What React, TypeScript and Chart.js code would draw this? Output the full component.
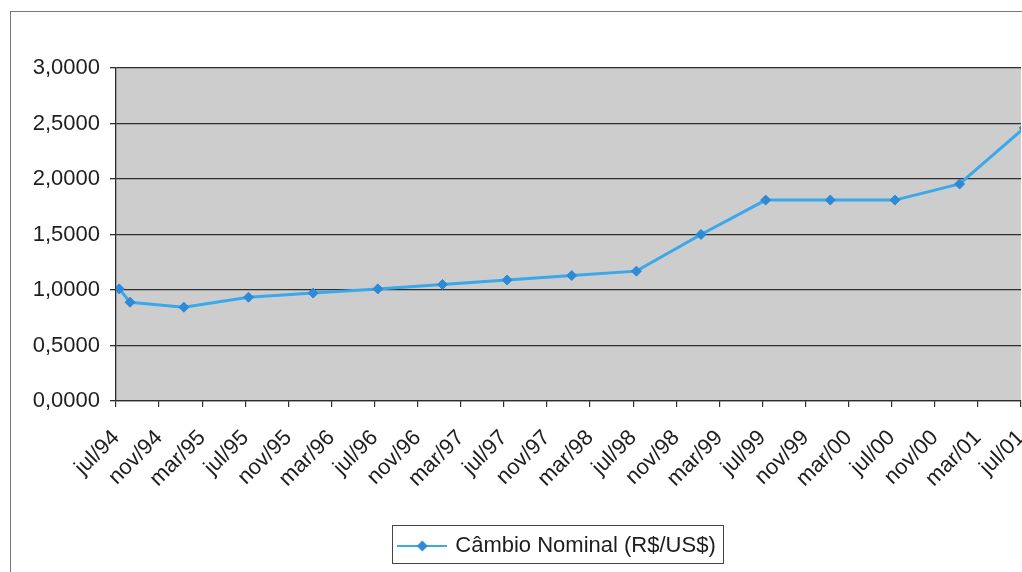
import { useEffect, useRef } from "react";
import { Chart, registerables } from "chart.js";

Chart.register(...registerables);

// X axis tick positions (months since jul/94) and their labels
const tickMonths = [0, 4, 8, 12, 16, 20, 24, 28, 32, 36, 40, 44, 48, 52, 56, 60, 64, 68, 72, 76, 80, 84];
const tickLabels = [
  "jul/94", "nov/94", "mar/95", "jul/95", "nov/95", "mar/96", "jul/96", "nov/96",
  "mar/97", "jul/97", "nov/97", "mar/98", "jul/98", "nov/98", "mar/99", "jul/99",
  "nov/99", "mar/00", "jul/00", "nov/00", "mar/01", "jul/01",
];

// Observation months (since jul/94) and the day-in-month fraction of each observation
const pointMonths = [0, 1, 6, 12, 18, 24, 30, 36, 42, 48, 54, 60, 66, 72, 78, 84];
const dayFraction = 0.3;
const rateValues = [1.01, 0.89, 0.845, 0.935, 0.972, 1.01, 1.05, 1.09, 1.13, 1.17, 1.5, 1.81, 1.81, 1.81, 1.955, 2.46];

const yTicks = [0, 0.5, 1, 1.5, 2, 2.5, 3];
const seriesLabel = "Câmbio Nominal (R$/US$)";

const FONT = "'Liberation Sans', Arial, sans-serif";
const LINE_COLOR = "#3aa8ea";
const MARKER_COLOR = "#2c8ad6";
const GRID_COLOR = "#2e2e2e";
const TEXT_COLOR = "#1e1e1e";

function makeLegendImage(): HTMLCanvasElement {
  const c = document.createElement("canvas");
  c.width = 50;
  c.height = 14;
  const ctx = c.getContext("2d")!;
  ctx.strokeStyle = LINE_COLOR;
  ctx.lineWidth = 2;
  ctx.beginPath();
  ctx.moveTo(0, 7);
  ctx.lineTo(50, 7);
  ctx.stroke();
  ctx.fillStyle = MARKER_COLOR;
  ctx.beginPath();
  ctx.moveTo(25, 1.5);
  ctx.lineTo(30.5, 7);
  ctx.lineTo(25, 12.5);
  ctx.lineTo(19.5, 7);
  ctx.closePath();
  ctx.fill();
  return c;
}

const plotBackground = {
  id: "plotBackground",
  beforeDraw(chart: any) {
    const { ctx, chartArea } = chart;
    ctx.save();
    ctx.fillStyle = "#cdcdcd";
    ctx.fillRect(chartArea.left, chartArea.top, chartArea.right - chartArea.left, chartArea.bottom - chartArea.top);
    ctx.restore();
  },
};

// The original chart is wider than the visible crop: centre the legend on the full chart width.
const legendShift = {
  id: "legendShift",
  afterUpdate(chart: any) {
    const lg = chart.legend;
    if (!lg) return;
    const shift = (chart.width - lg.right) / 2;
    lg.left += shift;
    lg.right += shift;
    (lg.legendHitBoxes || []).forEach((h: any) => {
      h.left += shift;
    });
  },
};

const legendBorder = {
  id: "legendBorder",
  afterDraw(chart: any) {
    const lg = chart.legend;
    if (!lg || !lg.legendHitBoxes || !lg.legendHitBoxes.length) return;
    const h = lg.legendHitBoxes[0];
    const { ctx } = chart;
    ctx.save();
    ctx.strokeStyle = "#444";
    ctx.lineWidth = 1;
    ctx.strokeRect(Math.round(h.left - 8) + 0.5, Math.round(h.top - 10) + 0.5, Math.round(h.width + 16), Math.round(h.height + 16));
    ctx.restore();
  },
};

export default function App() {
  const ref = useRef<HTMLCanvasElement>(null);

  useEffect(() => {
    if (!ref.current) return;
    const legendImg = makeLegendImage();
    const chart = new Chart(ref.current, {
      type: "line",
      data: {
        datasets: [
          {
            label: seriesLabel,
            data: pointMonths.map((m, i) => ({ x: m + dayFraction, y: rateValues[i] })),
            borderColor: LINE_COLOR,
            backgroundColor: MARKER_COLOR,
            borderWidth: 3,
            pointStyle: "rectRot",
            pointRadius: 5,
            pointBackgroundColor: MARKER_COLOR,
            pointBorderColor: MARKER_COLOR,
            pointBorderWidth: 1,
            tension: 0,
          },
        ],
      },
      options: {
        animation: false,
        responsive: false,
        maintainAspectRatio: false,
        layout: { padding: { top: 68, right: 95, bottom: 5, left: 0 } },
        plugins: {
          tooltip: { enabled: false },
          legend: {
            position: "bottom",
            labels: {
              usePointStyle: true,
              pointStyleWidth: 44,
              padding: 10,
              color: TEXT_COLOR,
              font: { family: FONT, size: 22 },
              generateLabels: (c: any) =>
                c.data.datasets.map((ds: any, i: number) => ({
                  text: ds.label,
                  pointStyle: legendImg,
                  fillStyle: MARKER_COLOR,
                  strokeStyle: LINE_COLOR,
                  lineWidth: 0,
                  hidden: false,
                  datasetIndex: i,
                  fontColor: TEXT_COLOR,
                })),
            },
          },
        },
        scales: {
          x: {
            type: "linear",
            min: 0,
            max: 84,
            afterBuildTicks: (s: any) => {
              s.ticks = tickMonths.map((v) => ({ value: v }));
            },
            afterFit: (s: any) => {
              s.height = 124;
            },
            grid: {
              drawOnChartArea: false,
              drawTicks: true,
              tickLength: 6,
              color: GRID_COLOR,
              lineWidth: 1.2,
            },
            border: { color: GRID_COLOR, width: 1.3 },
            ticks: {
              autoSkip: false,
              minRotation: 45,
              maxRotation: 45,
              padding: 18,
              color: TEXT_COLOR,
              font: { family: FONT, size: 22 },
              callback: (v: any) => {
                const i = tickMonths.indexOf(Number(v));
                return i >= 0 ? tickLabels[i] : "";
              },
            },
          },
          y: {
            type: "linear",
            min: 0,
            max: 3,
            afterBuildTicks: (s: any) => {
              s.ticks = yTicks.map((v) => ({ value: v }));
            },
            afterFit: (s: any) => {
              s.width = 116;
            },
            grid: {
              color: GRID_COLOR,
              lineWidth: 1.3,
              drawTicks: true,
              tickLength: 6,
            },
            border: { color: GRID_COLOR, width: 1.3 },
            ticks: {
              padding: 10,
              color: TEXT_COLOR,
              font: { family: FONT, size: 22 },
              callback: (v: any) => Number(v).toFixed(4).replace(".", ","),
            },
          },
        },
      },
      plugins: [plotBackground, legendShift, legendBorder],
    });
    return () => chart.destroy();
  }, []);

  return (
    <div
      style={{
        position: "fixed",
        left: 0,
        top: 0,
        width: 1022,
        height: 572,
        overflow: "hidden",
        background: "#ffffff",
      }}
    >
      <div
        style={{
          position: "absolute",
          left: 10,
          top: 11,
          width: 1200,
          height: 800,
          border: "1px solid #777",
          boxSizing: "border-box",
        }}
      />
      <canvas ref={ref} width={1116} height={572} style={{ position: "absolute", left: 0, top: 0, width: 1116, height: 572 }} />
    </div>
  );
}
